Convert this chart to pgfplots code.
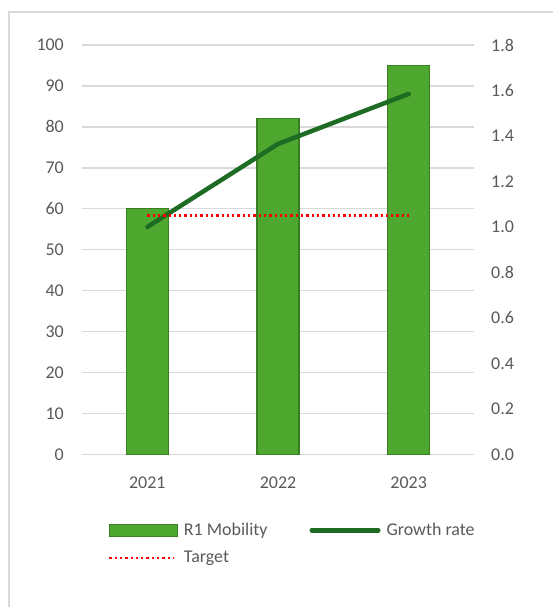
\documentclass[border=0pt]{standalone}
\usepackage{pgfplots}
\pgfplotsset{compat=1.18}
\usepackage{fontspec}
\setmainfont{Carlito}
\definecolor{barfill}{RGB}{78,167,46}
\definecolor{baredge}{RGB}{58,125,34}
\definecolor{linegreen}{RGB}{30,107,36}
\definecolor{gridgray}{RGB}{217,217,217}
\definecolor{txtgray}{RGB}{89,89,89}
\definecolor{framegray}{RGB}{217,217,217}
\begin{document}
\fontsize{18}{22}\selectfont
\begin{tikzpicture}[x=1bp,y=1bp]
\useasboundingbox (0,0) rectangle (553,607);
\draw[framegray, line width=1.5bp] (9,-10) -- (9,595) -- (570,595);
\pgfplotsset{
  common/.style={
    scale only axis, width=392bp, height=409.5bp,
    at={(82bp,152.5bp)}, anchor=south west,
    xmin=-0.5, xmax=2.5,
    axis line style={draw=none}, tick style={draw=none},
    ticklabel style={font=\fontsize{18}{22}\selectfont, text=txtgray},
    /pgf/number format/assume math mode=true,
  }
}
\begin{axis}[common,
  ybar, bar width=42bp,
  ymin=0, ymax=100, ytick={0,10,20,30,40,50,60,70,80,90,100},
  ymajorgrids, grid style={gridgray, line width=1.4bp},
  xtick={0,1,2}, xticklabels={2021,2022,2023},
  yticklabel style={xshift=-12bp},
  xticklabel style={yshift=-12bp},
  legend columns=2,
  legend style={at={(axis description cs:0,0)}, anchor=north west,
    xshift=26bp, yshift=-66bp,
    draw=none, fill=none, inner sep=0pt,
    font=\fontsize{18}{22}\selectfont, text=txtgray,
    row sep=9bp,
    /tikz/every odd column/.append style={column sep=4bp},
    /tikz/every even column/.append style={column sep=40bp}},
  legend cell align=left,
]
\addplot[fill=barfill, draw=baredge, line width=1.3bp,
  legend image code/.code={\draw[fill=barfill, draw=baredge, line width=1.3bp] (0bp,-6bp) rectangle (68bp,6bp);}]
  coordinates {(0,60) (1,82) (2,95)};
\addlegendentry{R1 Mobility}
\addlegendimage{legend image code/.code={\draw[linegreen, line width=4.5bp, line cap=round] (2.25bp,0bp) -- (68.75bp,0bp);}}
\addlegendentry{Growth rate}
\addlegendimage{legend image code/.code={\draw[red, line width=2.3bp, dash pattern=on 2.3bp off 3bp] (0bp,0bp) -- (64bp,0bp);}}
\addlegendentry{Target}
\end{axis}
\begin{axis}[common,
  ymin=0, ymax=1.8, ytick={0,0.2,0.4,0.6,0.8,1.0,1.2,1.4,1.6,1.8},
  axis y line*=right, axis x line=none,
  yticklabel style={xshift=11bp, /pgf/number format/fixed, /pgf/number format/fixed zerofill, /pgf/number format/precision=1},
]
\addplot[linegreen, line width=4.5bp, line cap=round, line join=round]
  coordinates {(0,1.0) (1,1.365) (2,1.585)};
\addplot[red, line width=2.3bp, dash pattern=on 2.3bp off 3bp]
  coordinates {(0,1.05) (2,1.05)};
\end{axis}
\end{tikzpicture}
\end{document}
